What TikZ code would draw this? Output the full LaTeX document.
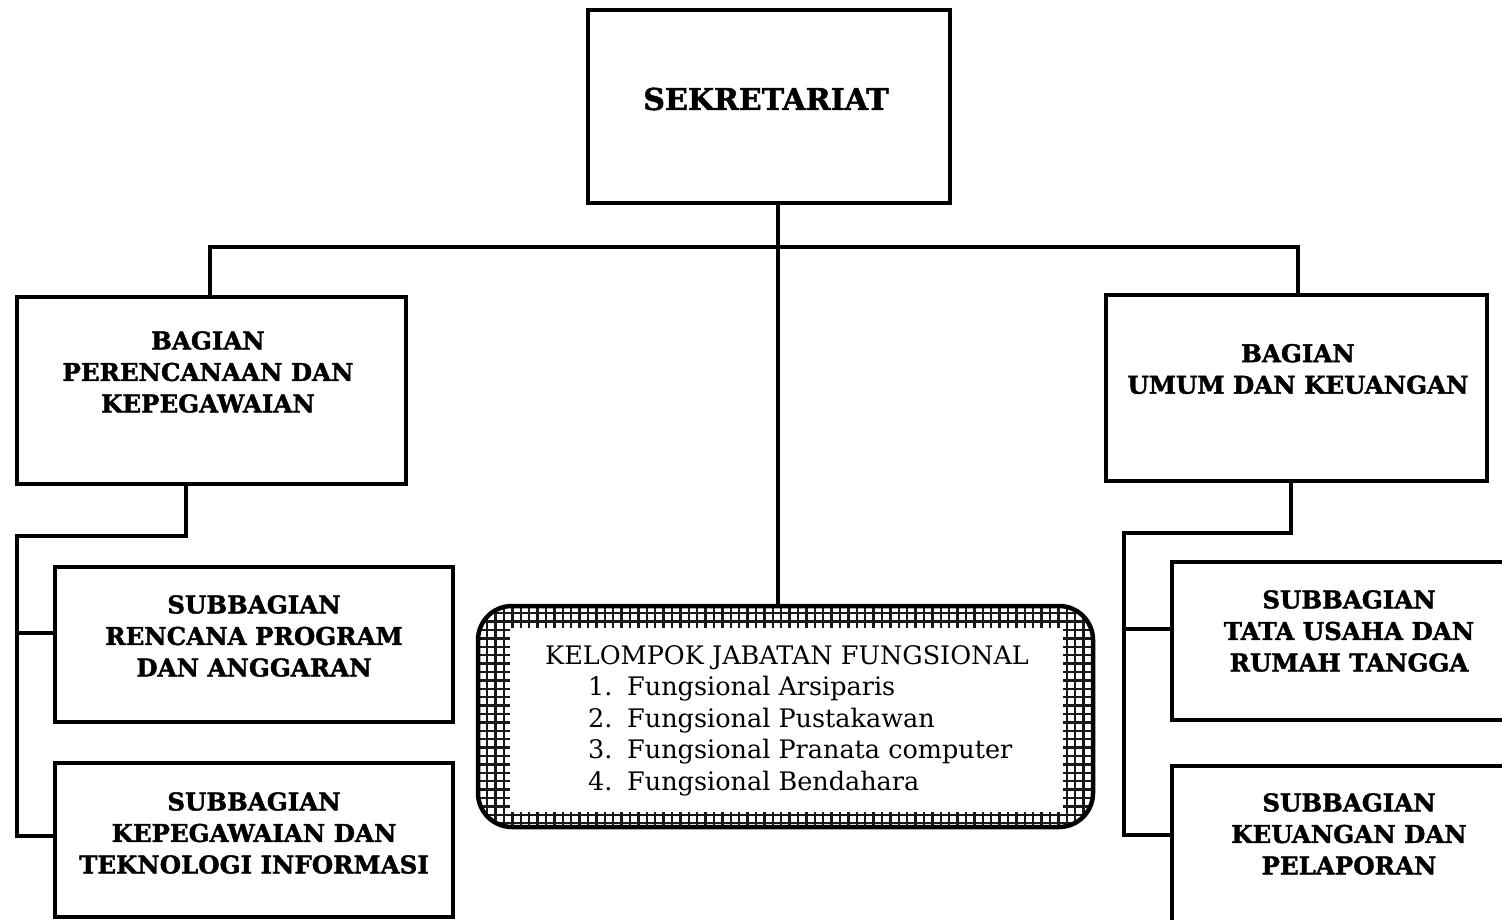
\documentclass[tikz,border=0pt]{standalone}
\usepackage{fontspec}
\setmainfont{DejaVu Serif}[BoldFeatures={FakeBold=1.6}]
\begin{document}
\begin{tikzpicture}[x=1pt,y=-1pt,
  box/.style={draw, line width=4.5pt, inner sep=0pt, outer sep=0pt, fill=white},
  btext/.style={align=center, inner sep=0pt, font=\bfseries\fontsize{24.5}{31.5}\selectfont},
  conn/.style={line width=4.5pt}]
\useasboundingbox (0,0) rectangle (1502,919);
% boxes
\node[box, minimum width=362pt, minimum height=193pt] (sek) at (769,106.5) {};
\node[box, minimum width=389pt, minimum height=187pt] (bpk) at (211.5,390.5) {};
\node[box, minimum width=381pt, minimum height=186pt] (buk) at (1296.5,388) {};
\node[box, minimum width=398pt, minimum height=155pt] (srp) at (254,644.5) {};
\node[box, minimum width=398pt, minimum height=154pt] (skt) at (254,840) {};
\node[box, minimum width=354pt, minimum height=158pt] (stu) at (1349,641) {};
\node[box, minimum width=354pt, minimum height=159pt] (skp) at (1349,845.5) {};
% functional group box with hatched border
\begin{scope}
  \clip[rounded corners=34pt] (478,606) rectangle (1093,827);
  \fill[white] (478,606) rectangle (1093,827);
  \draw[line width=2.4pt, black!90, step=8.4pt] (470,600) grid (1100,835);
\end{scope}
\fill[white] (510,628) rectangle (1063,812);
\node[draw, line width=4.5pt, rounded corners=34pt, inner sep=0pt, minimum width=615pt, minimum height=221pt] (kjf) at (785.5,716.5) {};
% texts
\node[btext, font=\bfseries\fontsize{30}{36}\selectfont] (sekt) at (766,99) {SEKRETARIAT};
\node[btext] (bpkt) at (208,372) {BAGIAN\\PERENCANAAN DAN\\KEPEGAWAIAN};
\node[btext] (bukt) at (1298,369) {BAGIAN\\UMUM DAN KEUANGAN};
\node[btext] (srpt) at (254,636) {SUBBAGIAN\\RENCANA PROGRAM\\DAN ANGGARAN};
\node[btext] (sktt) at (254,833) {SUBBAGIAN\\KEPEGAWAIAN DAN\\TEKNOLOGI INFORMASI};
\node[btext] (stut) at (1349,631) {SUBBAGIAN\\TATA USAHA DAN\\RUMAH TANGGA};
\node[btext] (skpt) at (1349,834) {SUBBAGIAN\\KEUANGAN DAN\\PELAPORAN};
\node[align=left, anchor=base west, inner sep=0pt, font=\fontsize{25.5}{31.5}\selectfont] (kjft) at (545,790)
  {KELOMPOK JABATAN FUNGSIONAL\\
   \hspace*{43pt}\makebox[39pt][l]{1.}Fungsional Arsiparis\\
   \hspace*{43pt}\makebox[39pt][l]{2.}Fungsional Pustakawan\\
   \hspace*{43pt}\makebox[39pt][l]{3.}Fungsional Pranata computer\\
   \hspace*{43pt}\makebox[39pt][l]{4.}Fungsional Bendahara};
% connectors
\coordinate (trunk) at (778,247);
\coordinate (busL) at (210,247);
\coordinate (busR) at (1298,247);
\draw[conn] (sek.south -| trunk) -- (kjf.north -| trunk);
\draw[conn] (bpk.north -| busL) -- (busL) -- (busR) -- (buk.north -| busR);
\coordinate (lj) at (186,536);
\coordinate (lrail) at (17,536);
\coordinate (lb1) at (17,633);
\coordinate (lb2) at (17,836);
\draw[conn] (bpk.south -| lj) -- (lj) -- (lrail) -- (lb2) -- (lb2 -| skt.west);
\draw[conn] (lb1) -- (lb1 -| srp.west);
\coordinate (rj) at (1291,533);
\coordinate (rrail) at (1124,533);
\coordinate (rb1) at (1124,629);
\coordinate (rb2) at (1124,835);
\draw[conn] (buk.south -| rj) -- (rj) -- (rrail) -- (rb2) -- (rb2 -| skp.west);
\draw[conn] (rb1) -- (rb1 -| stu.west);
\end{tikzpicture}
\end{document}
